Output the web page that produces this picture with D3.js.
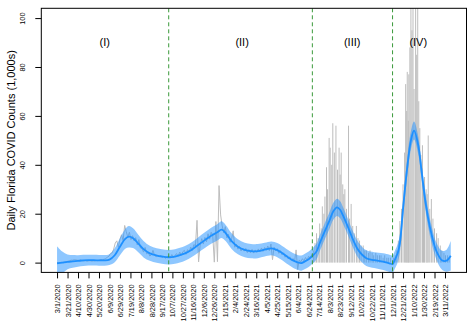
<!DOCTYPE html>
<html><head><meta charset="utf-8">
<script src="https://cdn.jsdelivr.net/npm/d3@7"></script>
<style>body{margin:0;background:#fff}svg{display:block}text{font-family:"Liberation Sans",Arial,sans-serif}</style>
</head><body><svg id="c" width="468" height="335"></svg>
<script>
// ---------------- data ----------------
const startDate = "3/1/2020";
const tickLabels = ["3/1/2020","3/21/2020","4/10/2020","4/30/2020","5/20/2020","6/9/2020","6/29/2020","7/19/2020","8/8/2020","8/28/2020","9/17/2020","10/7/2020","10/27/2020","11/16/2020","12/6/2020","12/26/2020","1/15/2021","2/4/2021","2/24/2021","3/16/2021","4/5/2021","4/25/2021","5/15/2021","6/4/2021","6/24/2021","7/14/2021","8/3/2021","8/23/2021","9/12/2021","10/2/2021","10/22/2021","11/11/2021","12/1/2021","12/21/2021","1/10/2022","1/30/2022","2/19/2022","3/11/2022"];
const yTicks = [0,20,40,60,80,100];
const periodLabels = ["(I)","(II)","(III)","(IV)"];
const periodLabelDays = [91,353,563,689];
const periodLabelY = 90;
const boundaryDays = [213,487,640];

// smoothed fit (days since 3/1/2020, thousands)
const curveDays = [0,10,20,30,40,50,60,70,80,90,100,110,120,130,137,145,155,165,177,190,200,213,225,244,257,269,282,294,305,314,322,333,345,358,370,383,396,409,420,428,440,450,460,466,472,480,487,495,501,510,520,527,534,540,545,555,565,575,590,605,622,634,640,644,650,654,660,667,675,681,689,695,702,708,715,724,734,743,751];
const curveVals = [-0.3,0.0,0.3,0.5,0.7,0.9,1.0,1.0,0.9,0.9,1.2,3.0,6.5,9.7,10.6,10.0,7.8,5.5,3.8,2.9,2.5,2.2,2.5,3.8,5.3,7.2,9.2,11.0,12.3,13.5,12.0,8.8,6.5,5.2,4.7,4.7,5.3,5.8,5.1,4.1,2.3,0.9,0.0,-0.2,0.4,1.4,2.7,4.6,7.9,12.5,17.4,21.0,22.6,21.6,19.5,14.5,9.2,5.0,1.8,1.0,0.4,-0.3,-0.6,1.0,4.0,8.0,22,37,50,54,48,38,26,18,11,4.5,1.0,0.8,2.8];
// confidence band half-width
const bandDays = [0,10,20,35,60,100,120,137,155,180,213,250,300,314,350,400,450,487,520,534,560,600,640,660,681,700,730,743,751];
const bandHalf = [7,4.5,3,2.4,2.2,2.2,3.5,4.4,3.6,3.0,3.0,3.0,3.3,3.4,3.0,2.8,3.0,3.2,3.4,3.5,3.3,3.2,3.6,3.8,3.7,3.5,3.5,4.5,6];

// daily counts (every 3rd day), periods I-II
const dailyStep = 3;
const dailyVals = [0.0,0.0,0.0,0.1,0.1,0.2,0.4,0.6,0.8,1.0, 1.0,1.2,1.1,1.0,0.9,1.1,0.8,0.7,0.9,0.6, 0.7,0.8,0.6,0.7,0.7,0.9,0.8,1.1,1.3,1.2,
 1.4,1.6,2.3,2.6,3.8,4.0,5.5,8.0,8.9,6.3, 9.6,11.4,9.0,15.2,12.6,10.4,12.4,9.4,11.0,8.9, 10.2,7.2,9.4,6.0,5.8,4.3,6.2,3.6,4.1,2.7,
 3.2,5.0,3.0,2.4,3.1,2.6,2.9,2.1,2.7,1.7, 2.5,2.4,2.0,3.3,2.1,2.9,3.7,2.6,4.3,3.0, 4.5,5.0,3.4,5.3,4.4,6.3,5.0,7.4,6.8,17.3,
 0.3,7.2,9.8,7.6,10.3,8.5,11.8,9.6,12.4,11.2, 0.2,16.8,0.4,31.5,19.5,15.0,12.2,14.7,10.1,11.6, 8.3,9.7,13.0,6.3,7.6,5.5,6.6,4.8,5.9,4.7,
 5.8,4.1,5.3,4.0,5.4,3.9,5.2,4.2,5.6,4.4, 6.0,4.6,6.2,5.0,6.8,4.9,7.6,1.2,6.3,4.8, 5.7,3.8,4.9,3.2,4.0,2.2,3.1,1.5,2.4,0.9,
 1.7,0.4,5.2,-2.8,1.1,0.3,1.6,0.7,2.1,1.0,2.6,1.8,3.4];
// intermittent reports, periods III-IV
const spikeDays = [489,492,495,498,501,504,506,509,511,514,516,519,521,524,526,529,532,535,538,540,542,545,547,549,552,556,558,561,564,567,571,574,577,580,584,587,590,594,597,601,604,608,611,615,618,622,625,629,632,636,
 642,645,648,651,654,657,660,663,665,667,668,670,671,673,675,677,679,681,684,686,688,690,692,694,697,699,701,704,706,708,711,714,717,720,724,727,731,734,738,741,745,748];
const spikeVals = [5,8,12,10,16,14,23,20,27,39,30,51,47,40,57,45,56,38,47,36,45,32,28,30,22,56,18,24,15,12,15,10,9,7,7,5,5,4,5,4,3,4,3,3,3,2,3,2,2,2,
 2,3,5,9,17,22,32,45,73,62,78,58,77,88,125,95,130,71,120,85,118,66,55,44,48,30,35,30,28,52,22,26,18,14,12,10,7,5,4,3,3,2];

// ---------------- drawing ----------------
const svg = d3.select("#c");
const P = {l:41.3, r:466.5, t:8.3, b:272.4};
const x = d3.scaleLinear().domain([-30.04, 781.04]).range([P.l, P.r]);
const y = d3.scaleLinear().domain([-4, 104]).range([P.b, P.t]);
const parse = d3.timeParse("%m/%d/%Y");
const d0 = parse(startDate);
const dayOf = s => Math.round((parse(s) - d0) / 864e5);

svg.append("defs").append("clipPath").attr("id","clip")
  .append("rect").attr("x",P.l).attr("y",P.t).attr("width",P.r-P.l).attr("height",P.b-P.t);
const g = svg.append("g").attr("clip-path","url(#clip)");

// daily gray line
const daily = dailyVals.map((v,i)=>[i*dailyStep, v]);
g.append("path").datum(daily)
  .attr("d", d3.line().x(d=>x(d[0])).y(d=>y(d[1])))
  .attr("fill","none").attr("stroke","#bdbdbd").attr("stroke-width",1);
g.selectAll("line.sp").data(spikeDays).enter().append("line")
  .attr("x1",d=>x(d)).attr("x2",d=>x(d))
  .attr("y1",y(0)).attr("y2",(d,i)=>y(spikeVals[i]))
  .attr("stroke","#bdbdbd").attr("stroke-width",1);

// band
const halfAt = d3.scaleLinear().domain(bandDays).range(bandHalf);
const fit = curveDays.map((d,i)=>({d, v:curveVals[i], h:halfAt(d)}));
g.append("path").datum(fit)
  .attr("d", d3.area().curve(d3.curveCatmullRom).x(p=>x(p.d)).y0(p=>y(p.v-p.h)).y1(p=>y(p.v+p.h)))
  .attr("fill","rgba(30,144,255,0.5)");
g.append("path").datum(fit)
  .attr("d", d3.line().curve(d3.curveCatmullRom).x(p=>x(p.d)).y(p=>y(p.v)))
  .attr("fill","none").attr("stroke","#1E90FF").attr("stroke-width",1.8);

// period boundaries
g.selectAll("line.bd").data(boundaryDays).enter().append("line")
  .attr("x1",d=>x(d)).attr("x2",d=>x(d)).attr("y1",P.t).attr("y2",P.b)
  .attr("stroke","#3a9a3a").attr("stroke-width",1).attr("stroke-dasharray","4,3");

// period labels
svg.selectAll("text.pl").data(periodLabels).enter().append("text")
  .attr("x",(d,i)=>x(periodLabelDays[i])).attr("y",y(periodLabelY)).attr("dy","0.35em")
  .attr("text-anchor","middle").attr("font-size",11).attr("fill","#000").text(d=>d);

// axes
const xa = svg.append("g").attr("transform",`translate(0,${P.b})`)
  .call(d3.axisBottom(x).tickValues(tickLabels.map(dayOf)).tickFormat((d,i)=>tickLabels[i]).tickSize(6));
xa.select(".domain").remove();
xa.selectAll("line").attr("stroke","#000");
xa.selectAll("text").attr("transform","rotate(-90)").attr("x",-12).attr("y",0).attr("dy","0.35em")
  .style("text-anchor","end").attr("font-size",7.4).attr("fill","#000").style("font-family",'"Liberation Sans",Arial,sans-serif');

const ya = svg.append("g").attr("transform",`translate(${P.l},0)`)
  .call(d3.axisLeft(y).tickValues(yTicks).tickSize(6));
ya.select(".domain").remove();
ya.selectAll("line").attr("stroke","#000");
ya.selectAll("text").attr("transform","rotate(-90)").attr("x",0).attr("y",-16).attr("dy",0)
  .style("text-anchor","middle").attr("font-size",7.4).attr("fill","#000").style("font-family",'"Liberation Sans",Arial,sans-serif');

// box
svg.append("rect").attr("x",P.l).attr("y",P.t).attr("width",P.r-P.l).attr("height",P.b-P.t)
  .attr("fill","none").attr("stroke","#000").attr("stroke-width",1);

// y title
svg.append("text").attr("transform",`translate(15,${(P.t+P.b)/2}) rotate(-90)`)
  .attr("text-anchor","middle").attr("font-size",11).attr("fill","#000")
  .text("Daily Florida COVID Counts (1,000s)");
</script></body></html>
